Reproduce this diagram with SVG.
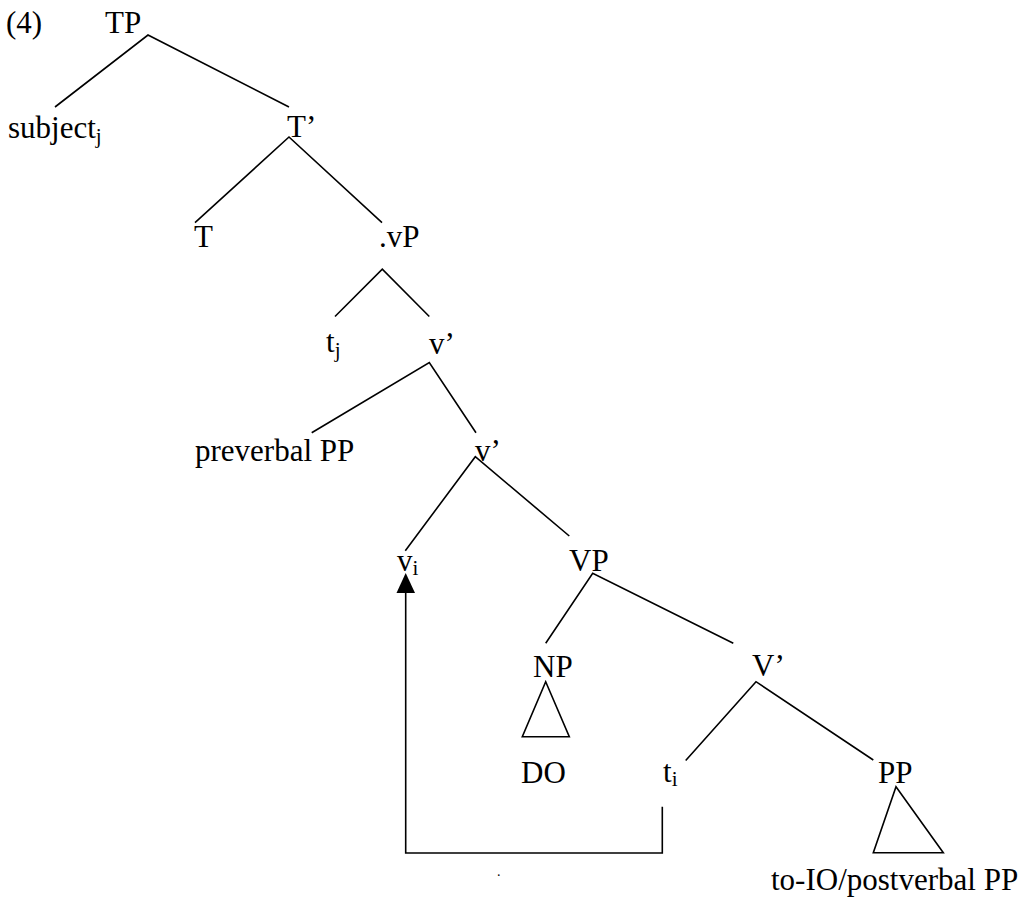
<svg xmlns="http://www.w3.org/2000/svg" width="1025" height="899" viewBox="0 0 1025 899">
<style>
text{font-family:"Liberation Serif","Times New Roman",serif;font-size:31px;fill:#000}
.sub{font-size:21px}
.e{stroke:#000;stroke-width:1.6;fill:none;stroke-linecap:butt}
</style>
<rect width="1025" height="899" fill="#fff"/>
<text x="6" y="33">(4)</text>
<g id="n-TP"><text x="105" y="33">TP</text></g>
<g id="n-subject"><text x="8" y="138">subject<tspan class="sub" dy="5">j</tspan></text></g>
<g id="n-Tbar"><text x="287" y="137">T’</text></g>
<g id="n-T"><text x="194" y="247">T</text></g>
<g id="n-vP"><text x="379" y="247">.vP</text></g>
<g id="n-tj"><text x="326" y="352">t<tspan class="sub" dy="5">j</tspan></text></g>
<g id="n-vbar1"><text x="429" y="354">v’</text></g>
<g id="n-preverbal"><text x="195" y="461">preverbal PP</text></g>
<g id="n-vbar2"><text x="475" y="461">v’</text></g>
<g id="n-vi"><text x="397" y="571">v<tspan class="sub" dy="4">i</tspan></text></g>
<g id="n-VP"><text x="569" y="571">VP</text></g>
<g id="n-NP"><text x="533" y="677">NP</text><path class="e" d="M545.7 681.7 L569.3 736.7 L522.3 736.7 Z"/></g>
<g id="n-DO"><text x="521" y="783">DO</text></g>
<g id="n-Vbar"><text x="752" y="676">V’</text></g>
<g id="n-ti"><text x="663" y="782">t<tspan class="sub" dy="4">i</tspan></text></g>
<g id="n-PP"><text x="878" y="783">PP</text><path class="e" d="M896 786.7 L943.3 852.7 L873.3 852.7 Z"/></g>
<g id="n-IO"><text x="771" y="890">to-IO/postverbal PP</text></g>
<text x="497" y="876" style="font-size:14px">.</text>
<g id="connectors">
<path class="e" d="M55 107 L148 35 L289 107"/>
<path class="e" d="M195 222.7 L289 137 L382 222.7"/>
<path class="e" d="M335 316.5 L382.3 269.2 L429.3 316.5"/>
<path class="e" d="M311.7 432.7 L429.3 362.5 L476 432.7"/>
<path class="e" d="M405.3 550.7 L475.3 456.7 L569.3 536"/>
<path class="e" d="M545.7 643.3 L592.7 573.3 L733.3 643.3"/>
<path class="e" d="M685.7 760.5 L756 681.7 L873.3 760"/>
<path class="e" d="M662.3 806.7 L662.3 853 L405.7 853 L405.7 593"/>
<path d="M405.7 573 L415 593 L396.5 593 Z" fill="#000"/>
</g>
</svg>
